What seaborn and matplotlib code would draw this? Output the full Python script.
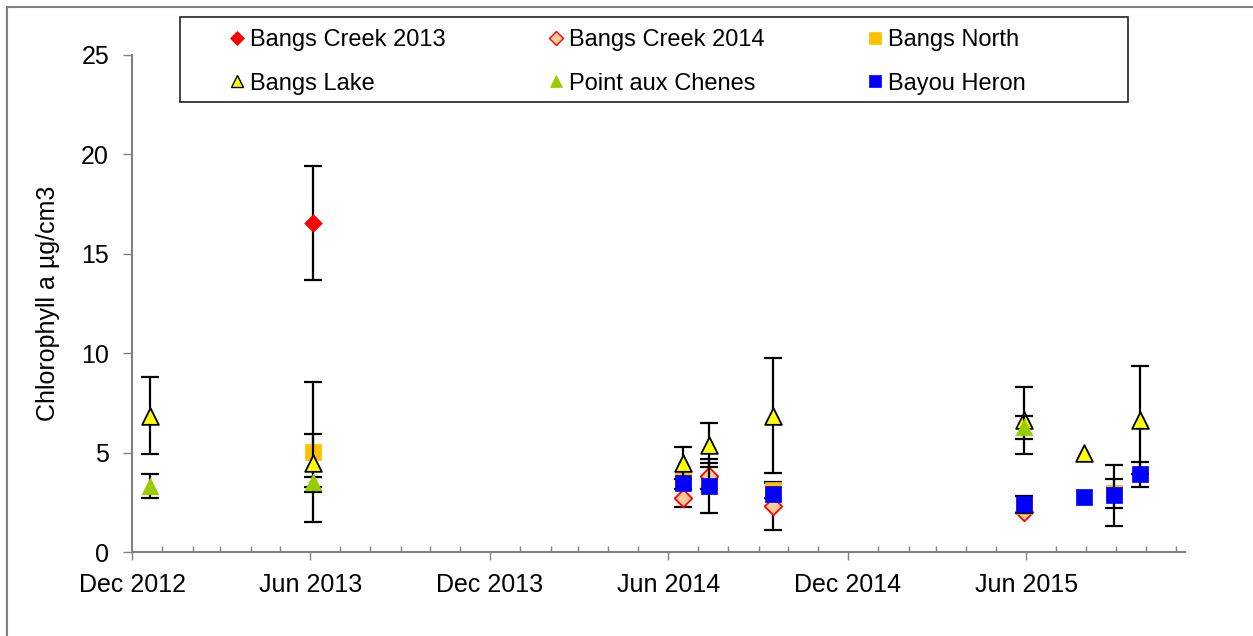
import matplotlib
matplotlib.use("Agg")
import matplotlib.pyplot as plt
import matplotlib.dates as mdates
from matplotlib.lines import Line2D
from matplotlib.patches import Rectangle
import seaborn as sns
import pandas as pd

# ---------------- data ----------------
bc13_dates = ["2013-06-04"]
bc13_vals = [16.55]
bc13_err = [2.87]

bc14_dates = ["2014-06-16", "2014-07-13", "2014-09-16", "2015-05-30"]
bc14_vals = [2.72, 3.82, 2.30, 2.00]
bc14_err = [0.45, 0.65, 1.17, 0.0]

bn_dates = ["2013-06-04", "2014-06-16", "2014-09-16", "2015-05-30", "2015-08-30"]
bn_vals = [5.03, 3.70, 3.10, 2.33, 2.95]
bn_err = [3.52, 0.0, 0.40, 0.0, 0.72]

bl_dates = ["2012-12-19", "2013-06-04", "2014-06-16", "2014-07-13", "2014-09-16",
            "2015-05-30", "2015-07-30", "2015-09-25"]
bl_vals = [6.86, 4.48, 4.47, 5.38, 6.85, 6.62, 4.98, 6.64]
bl_err = [1.93, 1.46, 0.80, 1.10, 2.90, 1.68, 0.0, 2.72]

pac_dates = ["2012-12-19", "2013-06-04", "2015-05-30"]
pac_vals = [3.32, 3.52, 6.28]
pac_err = [0.59, 0.25, 0.58]

bh_dates = ["2014-06-16", "2014-07-13", "2014-09-16", "2015-05-30", "2015-07-30",
            "2015-08-30", "2015-09-25"]
bh_vals = [3.47, 3.32, 2.92, 2.40, 2.77, 2.85, 3.92]
bh_err = [0.0, 1.36, 0.0, 0.43, 0.0, 1.55, 0.63]

series_names = ["Bangs Creek 2013", "Bangs Creek 2014", "Bangs North",
                "Bangs Lake", "Point aux Chenes", "Bayou Heron"]
y_ticks = [0, 5, 10, 15, 20, 25]
y_label = "Chlorophyll a µg/cm3"

# ---------------- styles ----------------
styles = {
    "Bangs Creek 2013": dict(marker="D", fc="#FF0000", ec="#FF0000", s=80, lw=0.5, lms=7),
    "Bangs Creek 2014": dict(marker="D", fc="#FFCC99", ec="#FF0000", s=80, lw=1.3, lms=7),
    "Bangs North": dict(marker="s", fc="#FFC000", ec="#FFC000", s=144, lw=0.5, lms=9),
    "Bangs Lake": dict(marker="^", fc="#FFFF00", ec="#000000", s=144, lw=1.3, lms=9),
    "Point aux Chenes": dict(marker="^", fc="#99CC00", ec="#99CC00", s=144, lw=0.5, lms=9),
    "Bayou Heron": dict(marker="s", fc="#0000FF", ec="#0000FF", s=144, lw=0.5, lms=9),
}

data = {
    "Bangs Creek 2013": (bc13_dates, bc13_vals, bc13_err),
    "Bangs Creek 2014": (bc14_dates, bc14_vals, bc14_err),
    "Bangs North": (bn_dates, bn_vals, bn_err),
    "Bangs Lake": (bl_dates, bl_vals, bl_err),
    "Point aux Chenes": (pac_dates, pac_vals, pac_err),
    "Bayou Heron": (bh_dates, bh_vals, bh_err),
}

sns.set_style("white")
plt.rcParams["font.family"] = ["Liberation Sans", "DejaVu Sans"]
plt.rcParams["text.color"] = "black"
plt.rcParams["axes.labelcolor"] = "black"
plt.rcParams["xtick.labelcolor"] = "black"
plt.rcParams["ytick.labelcolor"] = "black"

W, H = 1253, 636
fig = plt.figure(figsize=(W / 100, H / 100), dpi=100)
ax = fig.add_axes([132 / W, 1 - 552 / H, (1185 - 132) / W, (552 - 55) / H])

z = 3
for name in series_names:
    d, v, e = data[name]
    df = pd.DataFrame({"date": pd.to_datetime(d), "value": v, "err": e})
    st = styles[name]
    de = df[df["err"] > 0]
    if len(de):
        ax.errorbar(de["date"], de["value"], yerr=de["err"], fmt="none", ecolor="black",
                    elinewidth=1.6, capsize=6.5, capthick=1.6, zorder=z)
    sns.scatterplot(data=df, x="date", y="value", ax=ax, marker=st["marker"],
                    color=st["fc"], edgecolor=st["ec"], s=st["s"], linewidth=st["lw"],
                    zorder=z + 1, legend=False)
    z += 2

ax.set_xlim(pd.Timestamp("2012-12-01"), pd.Timestamp("2015-11-10"))
ax.set_ylim(0, 25)
ax.set_yticks(y_ticks)
ax.xaxis.set_major_locator(mdates.MonthLocator(bymonth=[6, 12]))
ax.xaxis.set_minor_locator(mdates.MonthLocator())
ax.xaxis.set_major_formatter(mdates.DateFormatter("%b %Y"))

for s in ["top", "right"]:
    ax.spines[s].set_visible(False)
for s in ["left", "bottom"]:
    ax.spines[s].set_color("#808080")
    ax.spines[s].set_linewidth(1.5)

ax.tick_params(axis="y", which="major", direction="out", length=6.5, width=1,
               color="#808080", labelsize=18, pad=10, left=True, labelcolor="black")
ax.tick_params(axis="x", which="major", direction="out", length=6, width=1,
               color="#808080", labelsize=18, pad=9, bottom=True, labelcolor="black")
ax.tick_params(axis="x", which="minor", direction="in", length=4, width=1,
               color="#808080", bottom=True)
ax.set_xlabel("")
ax.set_ylabel(y_label, fontsize=18, color="black")
ax.yaxis.set_label_coords(-0.068, 0.5)

# legend filled row-wise like the reference (matplotlib fills column-wise)
order = [0, 3, 1, 4, 2, 5]
handles = []
labels = []
for i in order:
    name = series_names[i]
    st = styles[name]
    handles.append(Line2D([0], [0], linestyle="none", marker=st["marker"],
                          markerfacecolor=st["fc"], markeredgecolor=st["ec"],
                          markeredgewidth=1.0 if st["lw"] > 1 else 0.5,
                          markersize=st["lms"]))
    labels.append(name)
leg = fig.legend(handles, labels, ncol=3,
                 bbox_to_anchor=(230 / W, 1 - 29 / H),
                 loc="upper left", fontsize=17, frameon=False,
                 handlelength=0.6, handletextpad=0.25, labelspacing=0.92,
                 columnspacing=4.38, borderpad=0, borderaxespad=0)
for t in leg.get_texts():
    t.set_color("black")

# legend frame
fig.patches.append(Rectangle((180 / W, 1 - 102 / H), (1128 - 180) / W, (102 - 17) / H,
                             transform=fig.transFigure, fill=False,
                             edgecolor="#222222", linewidth=1.2))

# outer chart border
fig.patches.append(Rectangle((7 / W, -0.5), 2.0, 1 - 7 / H + 0.5,
                             transform=fig.transFigure, fill=False,
                             edgecolor="#808080", linewidth=1.5))

fig.savefig("out.png", dpi=100)
